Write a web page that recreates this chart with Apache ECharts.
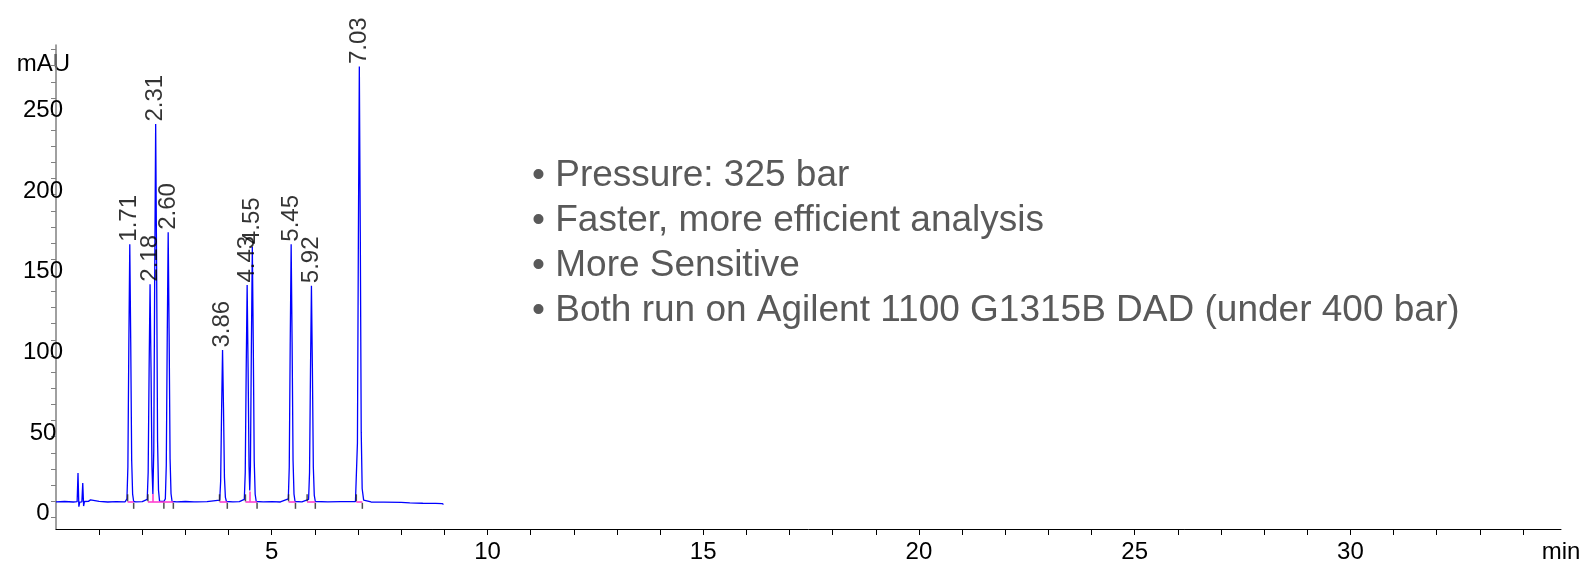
<!DOCTYPE html>
<html>
<head>
<meta charset="utf-8">
<script src="https://cdn.jsdelivr.net/npm/echarts@6/dist/echarts.min.js"></script>
<style>
html,body{margin:0;padding:0;background:#fff;}
#chart{width:1585px;height:568px;}
</style>
</head>
<body>
<div id="chart"></div>
<script>
// ---- data ----
const times = [0.00,0.20,0.40,0.49,0.51,0.53,0.55,0.60,0.62,0.64,0.66,0.75,0.80,0.84,1.00,1.20,1.40,1.60,
  1.644,1.666,1.688,1.710,1.732,1.754,1.776,1.800,1.850,2.000,
  2.114,2.136,2.158,2.180,2.202,2.224,2.245,2.266,2.288,2.310,2.332,2.354,2.376,2.400,
  2.500,2.534,2.556,2.578,2.600,2.622,2.644,2.666,2.690,2.800,3.000,3.200,3.230,3.260,3.500,
  3.794,3.816,3.838,3.860,3.882,3.904,3.926,3.950,4.100,4.250,
  4.364,4.386,4.408,4.430,4.452,4.474,4.490,4.506,4.528,4.550,4.572,4.594,4.616,4.640,
  4.800,5.000,5.200,
  5.384,5.406,5.428,5.450,5.472,5.494,5.516,5.540,5.700,
  5.854,5.876,5.898,5.920,5.942,5.964,5.986,6.010,6.300,6.600,
  6.940,6.964,6.986,7.008,7.030,7.052,7.074,7.096,7.130,7.300,7.600,8.000,8.200,8.500,8.800,8.950,8.980];
const signal = [9.6,9.8,9.5,9.7,27.5,6.6,9.4,9.6,21.3,7.0,9.8,9.9,10.8,9.7,9.9,9.5,9.7,9.6,
  11.4,31.2,107.0,169.3,108.6,35.2,14.4,9.8,9.6,9.7,
  11.1,27.8,91.9,144.5,93.2,31.2,14.4,41.2,151.8,243.8,154.8,47.1,16.6,10.0,
  9.8,11.4,32.2,111.0,176.7,113.2,36.3,14.6,9.8,9.6,9.8,9.6,10.8,9.6,9.7,
  10.6,22.3,66.7,103.7,67.9,24.7,12.4,9.8,9.6,9.7,
  11.1,27.7,91.2,144.0,92.9,31.5,16.6,31.3,105.6,167.8,107.6,34.9,14.3,9.8,
  9.6,9.7,9.5,
  11.4,31.2,107.0,169.3,108.6,35.2,14.4,9.8,9.6,
  11.1,27.7,91.0,143.6,92.7,31.0,13.6,9.8,9.6,9.7,
  9.8,11.0,46.0,173.4,279.4,176.9,52.8,17.7,10.6,9.5,9.4,9.3,8.9,8.7,8.6,8.5,7.9];

const peakTimes   = [1.71, 2.18, 2.31, 2.60, 3.86, 4.43, 4.55, 5.45, 5.92, 7.03];
const peakHeights = [169.3, 144.5, 243.8, 176.7, 103.7, 144.0, 167.8, 169.3, 143.6, 279.4];
const peakLabels  = ['1.71','2.18','2.31','2.60','3.86','4.43','4.55','5.45','5.92','7.03'];

const baseLevel = 9.6;
const intStarts = [1.66, 2.13, 3.79, 4.39, 5.39, 5.82, 6.96];
const intEnds   = [1.80, 2.72, 3.97, 4.66, 5.55, 6.01, 7.10];
const dropTimes = [2.245, 4.49];
const dropTops  = [14.4, 16.0];
const endMarks  = [1.80, 2.50, 2.72, 3.97, 4.66, 5.55, 6.01, 7.10];

const xTickValues  = [1,2,3,4,5,6,7,8,9,10,11,12,13,14,15,16,17,18,19,20,21,22,23,24,25,26,27,28,29,30,31,32,33,34];
const xLabelValues = [5,10,15,20,25,30];
const yTickValues  = [0,10,20,30,40,50,60,70,80,90,100,110,120,130,140,150,160,170,180,190,200,210,220,230,240,250,260,270,280,290];
const yLabelValues = [0,50,100,150,200,250];

const notes = ['Pressure: 325 bar', 'Faster, more efficient analysis', 'More Sensitive', 'Both run on Agilent 1100 G1315B DAD (under 400 bar)'];

// ---- chart ----
const FONT = '"Liberation Sans", Arial, sans-serif';
const chart = echarts.init(document.getElementById('chart'));

const traceData = times.map((t, i) => [t, signal[i]]);
const segData = intStarts.map((s, i) => ({coords: [[s, baseLevel], [intEnds[i], baseLevel]]}))
  .concat(dropTimes.map((t, i) => ({coords: [[t, baseLevel], [t, dropTops[i]]]})));

const option = {
  animation: false,
  backgroundColor: '#ffffff',
  title: {
    text: notes.map(s => '\u2022 ' + s).join('\n'),
    left: 527, top: 148.5,
    textStyle: {fontFamily: FONT, fontSize: 37, fontWeight: 'normal', color: '#595959', lineHeight: 45}
  },
  grid: {left: 56, right: 24, top: 45, bottom: 39, containLabel: false},
  xAxis: {
    type: 'value', min: 0, max: 34.88,
    axisLine: {show: true, onZero: false, lineStyle: {color: '#000', width: 1}},
    axisTick: {show: true, inside: false, length: 6, customValues: xTickValues, lineStyle: {color: '#000', width: 1}},
    axisLabel: {customValues: xLabelValues, fontFamily: FONT, fontSize: 24, color: '#000', margin: 11},
    splitLine: {show: false},
    name: 'min', nameLocation: 'end', nameGap: 0, nameMoveOverlap: false,
    nameTextStyle: {fontFamily: FONT, fontSize: 24, color: '#000', align: 'center', verticalAlign: 'top', padding: [11, 0, 0, 0]}
  },
  yAxis: {
    type: 'value', min: -7.25, max: 292.8,
    axisLine: {show: true, onZero: false, lineStyle: {color: '#808080', width: 1.5}},
    axisTick: {show: true, inside: false, length: 5, customValues: yTickValues, lineStyle: {color: '#808080', width: 1}},
    axisLabel: {customValues: yLabelValues, fontFamily: FONT, fontSize: 24, color: '#000', align: 'center', verticalAlign: 'bottom', lineHeight: 7, margin: 13},
    splitLine: {show: false},
    name: 'mAU', nameLocation: 'end', nameGap: -19, nameMoveOverlap: false,
    nameTextStyle: {fontFamily: FONT, fontSize: 24, color: '#000', align: 'center', verticalAlign: 'middle', padding: [0, 25, 0, 0]}
  },
  series: [
    {
      name: 'signal', type: 'line', data: traceData, showSymbol: false, symbol: 'none',
      lineStyle: {color: '#0000ff', width: 1.3}, z: 2, silent: true
    },
    {
      name: 'integration', type: 'lines', coordinateSystem: 'cartesian2d', data: segData,
      lineStyle: {color: '#ff33cc', width: 1.5, opacity: 1}, z: 3, silent: true
    },
    {
      name: 'starts', type: 'scatter', data: intStarts.map(t => [t, baseLevel]),
      symbol: 'rect', symbolSize: [1.5, 7], symbolOffset: [0, -4],
      itemStyle: {color: '#222'}, z: 4, silent: true
    },
    {
      name: 'ends', type: 'scatter', data: endMarks.map(t => [t, baseLevel]),
      symbol: 'rect', symbolSize: [1.5, 6], symbolOffset: [0, 4],
      itemStyle: {color: '#222'}, z: 4, silent: true
    },
    {
      name: 'peaks', type: 'scatter', data: peakTimes.map((t, i) => ({value: [t, peakHeights[i]], name: peakLabels[i]})),
      symbol: 'circle', symbolSize: 1, itemStyle: {color: 'rgba(0,0,0,0)'}, z: 5, silent: true,
      label: {
        show: true, position: 'top', distance: 2, rotate: 90, align: 'left', verticalAlign: 'middle',
        formatter: p => p.name, fontFamily: FONT, fontSize: 24, color: '#000'
      }
    }
  ]
};
chart.setOption(option);
</script>
</body>
</html>
